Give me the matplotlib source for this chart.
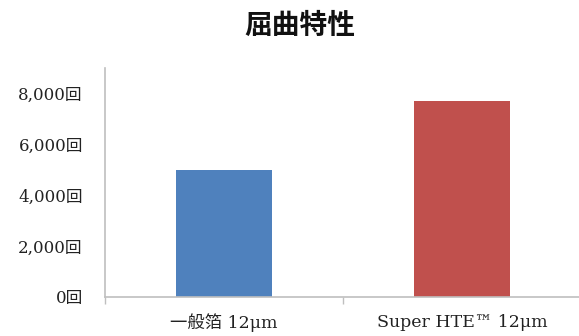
import matplotlib
matplotlib.use("Agg")
import matplotlib.pyplot as plt

# data
categories = ["一般箔 12μm", "Super HTE™ 12μm"]
values = [5000, 7700]
bar_colors = ["#4F81BD", "#C0504D"]
yticks = [0, 2000, 4000, 6000, 8000]
ytick_labels = ["{:,}回".format(v) for v in yticks]

serif = ["DejaVu Serif", "Noto Sans CJK JP"]
axis_gray = "#BFBFBF"

fig = plt.figure(figsize=(5.79, 3.36), dpi=100)
ax = fig.add_axes([105 / 579, 39 / 336, 476 / 579, 229 / 336])

x = list(range(len(categories)))
ax.bar(x, values, width=0.40, color=bar_colors, zorder=2)

ax.set_xlim(-0.5, len(categories) - 0.5)
ax.set_ylim(0, 9000)

ax.set_yticks(yticks)
ax.set_yticklabels(ytick_labels, family=serif, fontsize=12, color="#222222")
ax.tick_params(axis="y", length=0, pad=16)

ax.set_xticks(x)
ax.set_xticklabels(categories, family=serif, fontsize=12.5, color="#222222")
ax.set_xticks([-0.5, 0.5, 1.5], minor=True)
ax.tick_params(axis="x", which="major", length=0, pad=12)
ax.tick_params(axis="x", which="minor", length=5, width=1, color=axis_gray)

for side in ["top", "right"]:
    ax.spines[side].set_visible(False)
for side in ["left", "bottom"]:
    ax.spines[side].set_color(axis_gray)
    ax.spines[side].set_linewidth(1.2)

fig.text(300 / 579, 1 - 26 / 336, "屈曲特性", family="Noto Sans CJK JP",
         fontsize=20, fontweight="bold", ha="center", va="center", color="#111111")

fig.savefig("out.png", dpi=100)
